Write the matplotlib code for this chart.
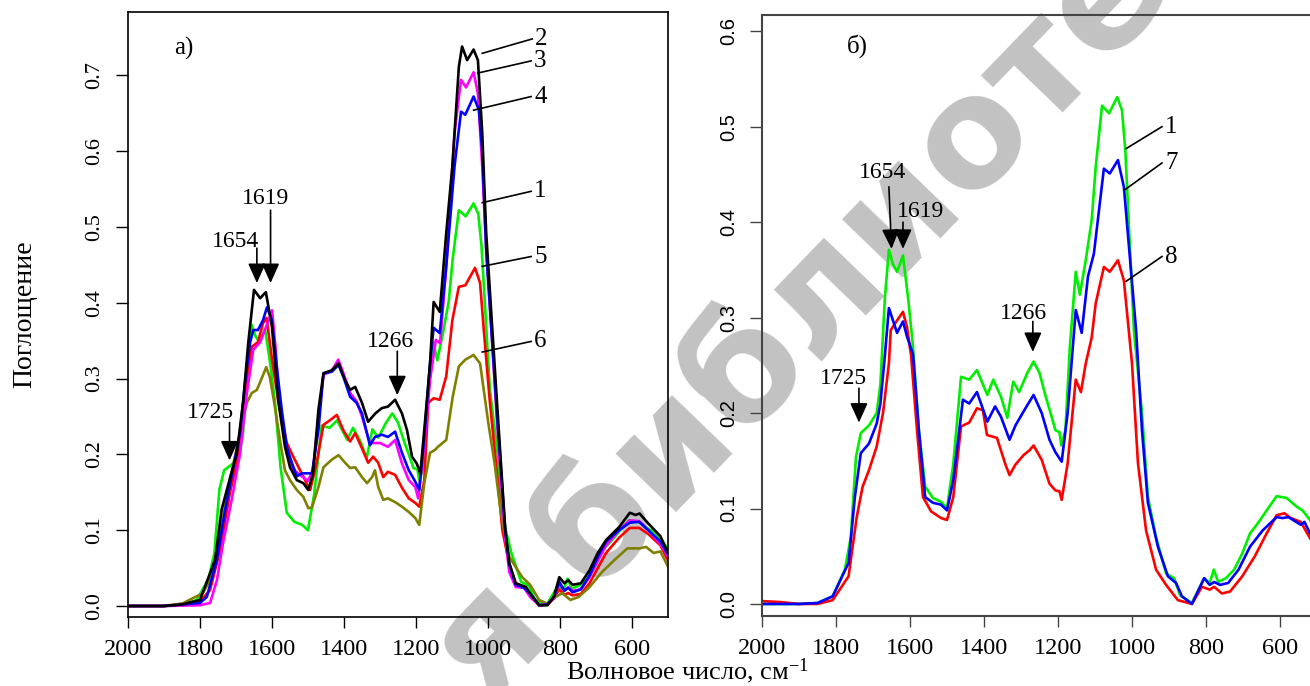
import matplotlib
matplotlib.use("Agg")
import matplotlib.pyplot as plt

plt.rcParams['font.family'] = ['Liberation Serif', 'DejaVu Serif']
plt.rcParams['mathtext.fontset'] = 'custom'
plt.rcParams['mathtext.rm'] = 'Liberation Serif'
plt.rcParams['mathtext.it'] = 'Liberation Serif:italic'

# ---- data (wavenumber, absorbance) ----
# curve 1 (green), shown in both panels
wn_1 = [2000, 1900, 1850, 1809, 1776, 1760, 1746, 1733, 1711, 1690, 1680, 1668, 1657, 1646, 1635, 1619,
        1605, 1592, 1576, 1559, 1538, 1516, 1500, 1483, 1462, 1440, 1419, 1391, 1375, 1354, 1337, 1321,
        1305, 1283, 1266, 1250, 1233, 1217, 1207, 1196, 1191, 1180, 1168, 1152, 1141, 1125, 1109, 1098,
        1081, 1062, 1040, 1027, 1018, 995, 973, 957, 935, 908, 886, 870, 838, 805, 790, 779, 767, 746,
        724, 702, 681, 659, 636, 609, 582, 555, 539, 519, 500]
abs_1 = [0.0, 0.0, 0.001, 0.008, 0.036, 0.07, 0.154, 0.179, 0.187, 0.2, 0.23, 0.32, 0.371, 0.356, 0.348, 0.365,
         0.32, 0.27, 0.182, 0.123, 0.111, 0.107, 0.1, 0.147, 0.238, 0.235, 0.245, 0.219, 0.235, 0.217, 0.195, 0.233,
         0.222, 0.242, 0.254, 0.242, 0.217, 0.196, 0.182, 0.18, 0.166, 0.182, 0.269, 0.348, 0.324, 0.36, 0.402, 0.458,
         0.522, 0.514, 0.531, 0.517, 0.475, 0.287, 0.2, 0.112, 0.07, 0.032, 0.027, 0.009, 0.001, 0.027, 0.022, 0.036, 0.023, 0.027,
         0.036, 0.053, 0.074, 0.085, 0.098, 0.113, 0.111, 0.102, 0.098, 0.088, 0.075]

# curve 2 (black)
wn_2 = [2000, 1900, 1850, 1800, 1758, 1740, 1716, 1698, 1680, 1666, 1650, 1633, 1617, 1600, 1583, 1564,
        1550, 1531, 1513, 1499, 1486, 1471, 1457, 1434, 1415, 1397, 1383, 1369, 1350, 1333, 1313, 1295,
        1278, 1258, 1239, 1225, 1211, 1198, 1188, 1177, 1161, 1151, 1134, 1116, 1099, 1081, 1072, 1058,
        1040, 1028, 1016, 1005, 990, 976, 964, 952, 941, 923, 894, 877, 858, 835, 817, 802, 788, 777,
        765, 742, 718, 695, 672, 636, 606, 590, 579, 555, 521, 500]
abs_2 = [0.0, 0.0, 0.002, 0.008, 0.061, 0.127, 0.17, 0.2, 0.27, 0.347, 0.417, 0.406, 0.414, 0.368, 0.272, 0.21,
         0.183, 0.166, 0.162, 0.153, 0.175, 0.259, 0.307, 0.311, 0.32, 0.298, 0.285, 0.289, 0.268, 0.243, 0.254, 0.261,
         0.263, 0.272, 0.254, 0.232, 0.197, 0.188, 0.175, 0.232, 0.32, 0.401, 0.388, 0.492, 0.58, 0.711, 0.738, 0.72,
         0.734, 0.72, 0.624, 0.492, 0.38, 0.276, 0.188, 0.1, 0.057, 0.03, 0.025, 0.012, 0.001, 0.001, 0.012, 0.038, 0.03, 0.034,
         0.028, 0.03, 0.047, 0.07, 0.087, 0.104, 0.123, 0.12, 0.122, 0.109, 0.092, 0.07]

# curve 3 (magenta)
wn_3 = [2000, 1900, 1800, 1772, 1753, 1736, 1712, 1689, 1670, 1652, 1633, 1611, 1600, 1590, 1578, 1560,
        1540, 1520, 1500, 1486, 1471, 1457, 1434, 1416, 1400, 1383, 1365, 1350, 1328, 1300, 1278, 1258,
        1239, 1220, 1202, 1194, 1177, 1161, 1145, 1133, 1116, 1093, 1075, 1061, 1040, 1028, 1016, 1005,
        990, 976, 964, 952, 941, 923, 900, 883, 858, 835, 817, 802, 788, 777, 765, 742, 718, 695,
        672, 636, 606, 580, 555, 521, 500]
abs_3 = [0.0, 0.0, 0.001, 0.004, 0.034, 0.083, 0.14, 0.2, 0.28, 0.338, 0.348, 0.375, 0.39, 0.34, 0.26, 0.205,
         0.18, 0.172, 0.165, 0.18, 0.25, 0.305, 0.31, 0.325, 0.305, 0.281, 0.27, 0.25, 0.215, 0.215, 0.21, 0.219,
         0.188, 0.166, 0.157, 0.142, 0.21, 0.298, 0.351, 0.347, 0.448, 0.624, 0.694, 0.684, 0.704, 0.676, 0.58, 0.47,
         0.36, 0.25, 0.165, 0.09, 0.045, 0.025, 0.024, 0.012, 0.001, 0.002, 0.01, 0.03, 0.02, 0.025, 0.02, 0.022, 0.038, 0.06,
         0.08, 0.1, 0.113, 0.112, 0.1, 0.082, 0.065]

# curve 4 (blue, left panel)
wn_4 = [2000, 1900, 1800, 1781, 1753, 1730, 1707, 1689, 1675, 1661, 1652, 1639, 1625, 1614, 1600, 1587,
        1573, 1559, 1545, 1531, 1517, 1503, 1489, 1471, 1457, 1434, 1415, 1400, 1383, 1365, 1350, 1328,
        1314, 1295, 1278, 1258, 1239, 1220, 1202, 1191, 1177, 1161, 1151, 1134, 1116, 1093, 1075, 1063,
        1040, 1025, 1016, 1005, 990, 976, 964, 952, 941, 923, 900, 880, 858, 835, 817, 802, 788, 777,
        765, 742, 718, 695, 672, 636, 606, 580, 555, 521, 500]
abs_4 = [0.0, 0.0, 0.004, 0.012, 0.061, 0.127, 0.184, 0.228, 0.294, 0.347, 0.364, 0.364, 0.377, 0.394, 0.377, 0.316,
         0.259, 0.21, 0.189, 0.171, 0.175, 0.175, 0.175, 0.232, 0.307, 0.309, 0.318, 0.3, 0.276, 0.268, 0.254, 0.212,
         0.223, 0.226, 0.223, 0.23, 0.202, 0.179, 0.164, 0.153, 0.223, 0.32, 0.367, 0.36, 0.448, 0.58, 0.652, 0.648,
         0.672, 0.654, 0.6, 0.47, 0.36, 0.26, 0.18, 0.1, 0.055, 0.028, 0.024, 0.015, 0.001, 0.002, 0.012, 0.032, 0.02, 0.024,
         0.018, 0.022, 0.04, 0.065, 0.085, 0.1, 0.11, 0.111, 0.1, 0.085, 0.068]

# curve 5 (red, left panel)
wn_5 = [2000, 1900, 1800, 1772, 1744, 1717, 1694, 1675, 1656, 1639, 1625, 1615, 1600, 1583, 1559, 1541,
        1522, 1508, 1499, 1494, 1476, 1457, 1439, 1420, 1402, 1383, 1369, 1350, 1333, 1319, 1305, 1291,
        1278, 1258, 1239, 1220, 1202, 1191, 1177, 1166, 1151, 1134, 1116, 1099, 1081, 1063, 1036, 1022,
        1011, 995, 976, 960, 941, 923, 900, 880, 858, 835, 817, 802, 788, 777, 765, 742, 718, 695,
        672, 636, 606, 580, 555, 521, 500]
abs_5 = [0.0, 0.0, 0.006, 0.021, 0.074, 0.149, 0.197, 0.28, 0.342, 0.348, 0.373, 0.38, 0.325, 0.272, 0.215, 0.197,
         0.179, 0.166, 0.157, 0.153, 0.189, 0.239, 0.245, 0.252, 0.232, 0.217, 0.228, 0.208, 0.189, 0.197, 0.189, 0.17,
         0.177, 0.173, 0.156, 0.142, 0.136, 0.131, 0.166, 0.268, 0.274, 0.272, 0.303, 0.377, 0.421, 0.423, 0.446, 0.426,
         0.36, 0.27, 0.18, 0.1, 0.055, 0.03, 0.025, 0.014, 0.001, 0.002, 0.01, 0.022, 0.015, 0.017, 0.014, 0.016, 0.03, 0.05,
         0.07, 0.09, 0.103, 0.103, 0.095, 0.08, 0.06]

# curve 6 (olive)
wn_6 = [2000, 1900, 1850, 1792, 1772, 1744, 1717, 1689, 1670, 1656, 1642, 1628, 1616, 1606, 1592, 1578,
        1564, 1550, 1531, 1513, 1499, 1489, 1471, 1457, 1434, 1415, 1397, 1383, 1369, 1350, 1336, 1322,
        1314, 1305, 1291, 1278, 1258, 1239, 1220, 1202, 1191, 1177, 1161, 1147, 1139, 1116, 1098, 1081,
        1063, 1040, 1022, 999, 982, 964, 941, 905, 883, 858, 835, 812, 794, 771, 748, 718, 683, 648,
        613, 579, 561, 540, 521, 500]
abs_6 = [0.0, 0.0, 0.003, 0.017, 0.034, 0.096, 0.166, 0.228, 0.268, 0.281, 0.285, 0.301, 0.315, 0.302, 0.263, 0.219,
         0.179, 0.166, 0.153, 0.144, 0.129, 0.13, 0.157, 0.183, 0.193, 0.199, 0.189, 0.182, 0.183, 0.17, 0.162, 0.17,
         0.179, 0.157, 0.14, 0.142, 0.137, 0.131, 0.124, 0.116, 0.107, 0.162, 0.202, 0.206, 0.21, 0.219, 0.276, 0.316,
         0.325, 0.331, 0.32, 0.241, 0.189, 0.122, 0.065, 0.038, 0.028, 0.008, 0.003, 0.012, 0.017, 0.008, 0.012, 0.025, 0.045, 0.061,
         0.076, 0.076, 0.078, 0.07, 0.072, 0.052]

# curve 7 (blue, right panel)
wn_7 = [2000, 1900, 1850, 1809, 1766, 1749, 1733, 1711, 1690, 1680, 1668, 1657, 1635, 1619, 1608, 1592,
        1576, 1559, 1538, 1516, 1500, 1483, 1457, 1440, 1419, 1391, 1370, 1354, 1331, 1315, 1288, 1266,
        1244, 1223, 1207, 1190, 1174, 1152, 1136, 1119, 1103, 1076, 1060, 1038, 1022, 989, 973, 957,
        930, 903, 881, 865, 838, 805, 790, 778, 762, 740, 712, 681, 647, 609, 593, 577, 544, 534,
        519, 500]
abs_7 = [0.0, 0.0, 0.001, 0.008, 0.043, 0.112, 0.158, 0.168, 0.189, 0.21, 0.26, 0.31, 0.284, 0.296, 0.28, 0.262,
         0.182, 0.112, 0.106, 0.104, 0.098, 0.13, 0.214, 0.21, 0.222, 0.191, 0.207, 0.196, 0.172, 0.187, 0.205, 0.219,
         0.2, 0.172, 0.159, 0.149, 0.2, 0.308, 0.284, 0.343, 0.367, 0.456, 0.451, 0.465, 0.437, 0.287, 0.182, 0.106,
         0.06, 0.029, 0.022, 0.008, 0.0, 0.027, 0.02, 0.023, 0.02, 0.022, 0.036, 0.06, 0.077, 0.091, 0.09, 0.091, 0.083, 0.086,
         0.074, 0.065]

# curve 8 (red, right panel)
wn_8 = [2000, 1950, 1900, 1850, 1809, 1766, 1744, 1728, 1711, 1690, 1673, 1657, 1652, 1635, 1619, 1608,
        1597, 1581, 1565, 1543, 1516, 1500, 1483, 1462, 1440, 1419, 1403, 1392, 1365, 1342, 1331, 1315,
        1293, 1277, 1266, 1244, 1223, 1207, 1196, 1190, 1174, 1152, 1138, 1125, 1109, 1098, 1076, 1060,
        1038, 1022, 1000, 984, 962, 935, 908, 876, 838, 811, 790, 778, 757, 735, 702, 668, 636, 609,
        588, 571, 544, 519, 500]
abs_8 = [0.003, 0.002, 0.0, 0.0, 0.004, 0.029, 0.091, 0.123, 0.14, 0.165, 0.2, 0.252, 0.287, 0.297, 0.306, 0.29,
         0.26, 0.182, 0.112, 0.097, 0.09, 0.088, 0.112, 0.186, 0.19, 0.205, 0.203, 0.177, 0.174, 0.146, 0.135, 0.146,
         0.156, 0.161, 0.166, 0.151, 0.126, 0.119, 0.118, 0.109, 0.147, 0.235, 0.222, 0.252, 0.279, 0.315, 0.353, 0.348,
         0.36, 0.339, 0.252, 0.148, 0.077, 0.036, 0.02, 0.004, 0.0, 0.018, 0.015, 0.018, 0.011, 0.013, 0.029, 0.05, 0.074, 0.093,
         0.095, 0.09, 0.086, 0.069, 0.06]

left_curves = [(wn_1, abs_1, '#00ee00'), (wn_5, abs_5, '#ff0000'), (wn_6, abs_6, '#808000'),
               (wn_3, abs_3, '#ff00ff'), (wn_4, abs_4, '#0000ff'), (wn_2, abs_2, '#000000')]
right_curves = [(wn_1, abs_1, '#00ee00'), (wn_8, abs_8, '#ff0000'), (wn_7, abs_7, '#0000ff')]

# curve number labels: text, line start (wn, A), line end (wn, A)
left_labels = [('2', 1016, 0.729, 877, 0.748), ('3', 1028, 0.703, 880, 0.719),
               ('4', 1040, 0.654, 880, 0.672), ('1', 1016, 0.532, 880, 0.547),
               ('5', 1016, 0.448, 880, 0.461), ('6', 1016, 0.335, 880, 0.349)]
right_labels = [('1', 1016, 0.477, 919, 0.500), ('7', 1019, 0.434, 919, 0.462),
                ('8', 1016, 0.338, 919, 0.364)]

# peak marks: text, text pos, arrow start, arrow tip
left_peaks = [('1654', (1700, 0.481), (1642, 0.472), (1642, 0.426)),
              ('1619', (1619, 0.537), (1604, 0.522), (1604, 0.426)),
              ('1266', (1272, 0.349), (1252, 0.336), (1252, 0.278)),
              ('1725', (1771, 0.255), (1718, 0.242), (1718, 0.192))]
right_peaks = [('1654', (1674, 0.452), (1657, 0.437), (1650, 0.372)),
               ('1619', (1571, 0.411), (1619, 0.400), (1619, 0.372)),
               ('1266', (1294, 0.304), (1268, 0.296), (1268, 0.264)),
               ('1725', (1779, 0.236), (1738, 0.226), (1738, 0.190))]

xticks = [2000, 1800, 1600, 1400, 1200, 1000, 800, 600]

fig = plt.figure(figsize=(13.1, 6.86), dpi=100)
fig.patch.set_facecolor('white')

# watermark
fig.text(0.373, -0.03, 'я библиотека', rotation=46, rotation_mode='anchor',
         fontsize=110, fontweight='bold', family='DejaVu Sans', color='#c2c2c2',
         ha='left', va='baseline', zorder=-1)

ax1 = fig.add_axes([128 / 1310, 1 - 617 / 686, 540 / 1310, 605 / 686])
ax2 = fig.add_axes([762 / 1310, 1 - 616 / 686, 555 / 1310, 601 / 686])


def draw_panel(ax, curves, labels, peaks, tag, tag_pos, ylim, yticks):
    ax.set_facecolor('none')
    for wn, a, c in curves:
        ax.plot(wn, a, color=c, lw=1.9, solid_joinstyle='round')
    for txt, w1, a1, w2, a2 in labels:
        ax.plot([w1, w2], [a1, a2], color='k', lw=1.2)
        ax.text(w2 - 8, a2, txt, fontsize=18, ha='left', va='center')
    for txt, tpos, start, tip in peaks:
        ax.text(tpos[0], tpos[1], txt, fontsize=17, ha='center', va='center')
        ax.annotate('', xy=tip, xytext=start,
                    arrowprops=dict(arrowstyle='-|>,head_length=1.0,head_width=0.45',
                                    color='k', lw=1.2, shrinkA=0, shrinkB=0,
                                    mutation_scale=12))
    ax.text(tag_pos[0], tag_pos[1], tag, fontsize=18, ha='center', va='center')
    ax.set_xlim(2000, 500)
    ax.set_ylim(*ylim)
    ax.set_xticks(xticks)
    ax.set_xticklabels([str(t) for t in xticks], fontsize=17.5)
    ax.set_yticks(yticks)
    ax.tick_params(axis='x', length=8, width=1, pad=8)
    ax.tick_params(axis='y', length=9, width=1, pad=8)


draw_panel(ax1, left_curves, left_labels, left_peaks, 'а)', (1844, 0.736),
           (-0.0145, 0.7835), [0.0, 0.1, 0.2, 0.3, 0.4, 0.5, 0.6, 0.7])
ax1.set_yticklabels(['%.1f' % t for t in ax1.get_yticks()], fontsize=16,
                    rotation=90, va='center', ha='right')
for s in ax1.spines.values():
    s.set_linewidth(1.2)

draw_panel(ax2, right_curves, right_labels, right_peaks, 'б)', (1743, 0.584),
           (-0.0126, 0.617), [0.0, 0.1, 0.2, 0.3, 0.4, 0.5, 0.6])
ax2.set_yticklabels(['%.1f' % t for t in ax2.get_yticks()], fontsize=14.5,
                    family='Liberation Sans', rotation=90, va='center', ha='right')
for s in ax2.spines.values():
    s.set_linewidth(1.5)
    s.set_color('#444444')
ax2.tick_params(colors='#444444', labelcolor='k')

fig.text(0.019, 0.5415, 'Поглощение', rotation=90, fontsize=20, ha='center', va='center')
fig.text(0.525, 0.021, 'Волновое число, см$^{-1}$', fontsize=19, ha='center', va='center')

fig.savefig('out.png', dpi=100, facecolor='white')
